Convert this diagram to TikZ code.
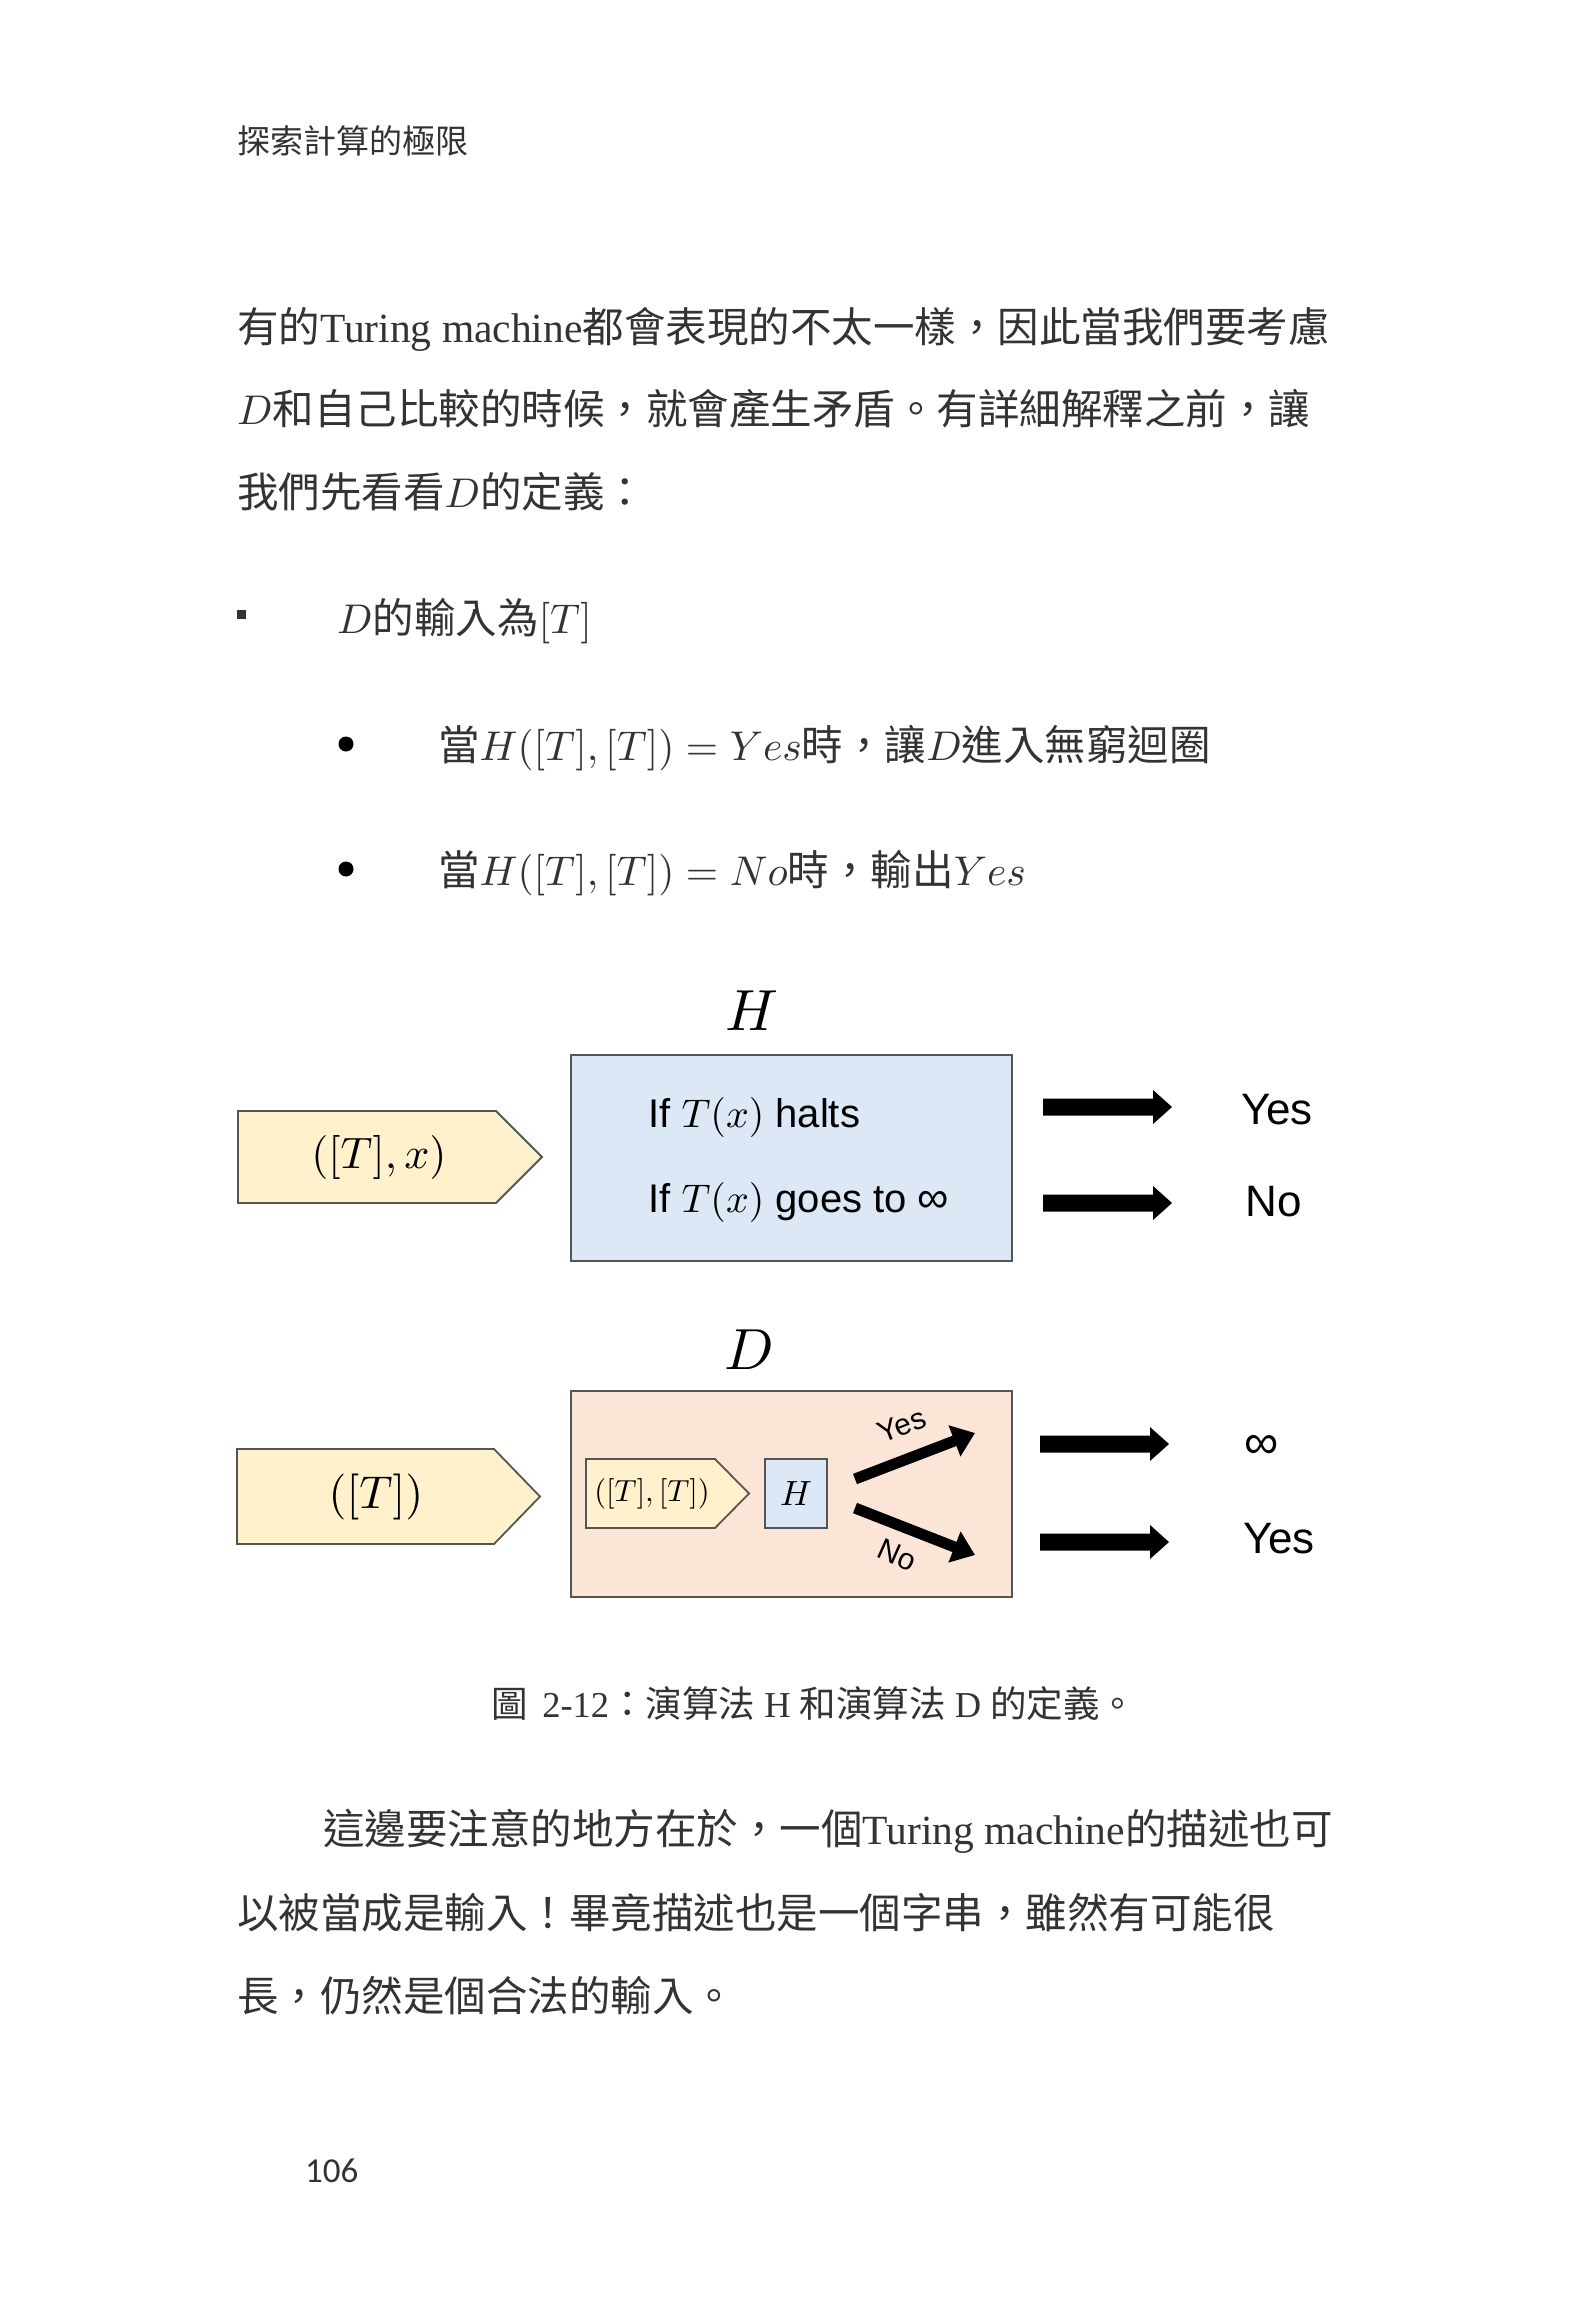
\documentclass[tikz,border=0pt]{standalone}
\usepackage{fontspec}
\setmainfont{Liberation Serif}
\newfontfamily\cjk{Noto Sans CJK TC}
\newfontfamily\arialf{Liberation Sans}
\newfontfamily\calf{Carlito}
\DeclareFontShape{OT1}{cmr}{m}{n}{<->cmr10}{}
\DeclareFontShape{OML}{cmm}{m}{it}{<->cmmi10}{}
\DeclareFontShape{OMS}{cmsy}{m}{n}{<->cmsy10}{}
\DeclareFontShape{OMX}{cmex}{m}{n}{<->cmex10}{}
\usetikzlibrary{arrows.meta}
\definecolor{txt}{HTML}{333333}
\definecolor{hblue}{HTML}{DCE8F5}
\definecolor{dpeach}{HTML}{FBE5D6}
\definecolor{pyellow}{HTML}{FEF1CB}
\definecolor{edgec}{HTML}{555555}
\newcommand\fs[1]{\fontsize{#1}{#1}\selectfont}
\newcommand\barrow[2]{\fill[black] (#1,#2) ++(0,-8.5) -- ++(110,0) -- ++(0,-8.5) -- ++(19,17) -- ++(-19,17) -- ++(0,-8.5) -- ++(-110,0) -- cycle;}
\tikzset{
  body/.style={anchor=base west, inner sep=0pt, text=txt, font=\fs{41.5}\cjk},
  pent/.style={draw=edgec, fill=pyellow, line width=1.8pt, line join=miter},
  bigbox/.style={draw=edgec, line width=1.8pt, minimum width=441pt, minimum height=206pt, inner sep=0pt},
  lbl/.style={inner sep=0pt, text=black},
  thinarrow/.style={line width=11pt, -{Triangle[length=22pt,width=32pt]}}
}
\begin{document}
\begin{tikzpicture}[x=1pt,y=-1pt]
\useasboundingbox[fill=white] (0,0) rectangle (1584,2317);

% header
\node[anchor=base west, inner sep=0pt, text=txt, font=\fs{33}\cjk] (hdr) at (237,153.5) {探索計算的極限};

% first paragraph
\node[body] (p1) at (237,342) {有的{\rmfamily Turing machine}都會表現的不太一樣，因此當我們要考慮};
\node[body] (p2) at (237,424) {$D$和自己比較的時候，就會產生矛盾。有詳細解釋之前，讓};
\node[body] (p3) at (237,507) {我們先看看$D$的定義：};

% list
\node[fill=txt, minimum size=9pt, inner sep=0pt] (sq) at (241,614) {};
\node[body] (b0) at (337,633) {$D$的輸入為$[T]$};
\node[circle, fill=black, minimum size=15pt, inner sep=0pt] (d1) at (346,744) {};
\node[body] (b1) at (438,760) {當$H([T],[T])=Yes$時，讓$D$進入無窮迴圈};
\node[circle, fill=black, minimum size=15pt, inner sep=0pt] (d2) at (346,869) {};
\node[body] (b2) at (438,885) {當$H([T],[T])=No$時，輸出$Yes$};

% ---------- H diagram ----------
\node[lbl, font=\fs{58}] (hl) at (752,1011) {$H$};
\node[bigbox, fill=hblue] (hbox) at (791.5,1158) {};
\node[lbl, anchor=west, font=\fs{40}\arialf] (h1) at (648,1117) {If $T(x)$ halts};
\node[lbl, anchor=west, font=\fs{40}\arialf] (h2) at (648,1202) {If $T(x)$ goes to {\fs{44}∞}};
\path[pent] (238,1111) -- (496,1111) -- (542,1157) -- (496,1203) -- (238,1203) -- cycle;
\node[lbl, font=\fs{44}] (in1) at (379,1157) {$([T],x)$};
\barrow{1043}{1107}
\barrow{1043}{1203}
\node[lbl, font=\fs{44}\arialf] (y1) at (1277,1110) {Yes};
\node[lbl, font=\fs{44}\arialf] (n1) at (1274,1202) {No};

% ---------- D diagram ----------
\node[lbl, font=\fs{58}] (dl) at (749,1350) {$D$};
\node[bigbox, fill=dpeach] (dbox) at (791.5,1494) {};
\path[pent] (237,1449) -- (494,1449) -- (540,1496.5) -- (494,1544) -- (237,1544) -- cycle;
\node[lbl, font=\fs{46}] (in2) at (376,1497) {$([T])$};
\path[pent] (586,1459) -- (715,1459) -- (749,1493.5) -- (715,1528) -- (586,1528) -- cycle;
\node[lbl, font=\fs{30.5}] (in3) at (652,1494) {$([T],[T])$};
\node[draw=edgec, fill=hblue, line width=1.8pt, minimum width=62pt, minimum height=69pt, inner sep=0pt, font=\fs{35}] (hs) at (796,1493.5) {$H$};
\coordinate (ys) at (855,1479);
\coordinate (ye) at (975,1433);
\coordinate (ns) at (855,1508);
\coordinate (ne) at (975,1555);
\draw[thinarrow] (ys) -- (ye);
\draw[thinarrow] (ns) -- (ne);
\node[lbl, font=\fs{30}\arialf, rotate=21] (yl) at (902,1425) {Yes};
\node[lbl, font=\fs{30}\arialf, rotate=-24] (nl) at (897,1555) {No};
\barrow{1040}{1444}
\barrow{1040}{1542}
\node[lbl, font=\fs{48}\arialf] (inf) at (1262,1447) {∞};
\node[lbl, font=\fs{44}\arialf] (y2) at (1279,1539) {Yes};

% caption
\node[anchor=base west, inner sep=0pt, text=txt, font=\fs{36.5}] (cap) at (491,1717) {{\cjk 圖}\hspace{.4em}2-12{\cjk ：演算法}\hspace{.25em}H\hspace{.25em}{\cjk 和演算法}\hspace{.25em}D\hspace{.25em}{\cjk 的定義。}};

% second paragraph
\node[body] (q1) at (323,1844) {這邊要注意的地方在於，一個{\rmfamily Turing machine}的描述也可};
\node[body] (q2) at (237,1928) {以被當成是輸入！畢竟描述也是一個字串，雖然有可能很};
\node[body] (q3) at (237,2011) {長，仍然是個合法的輸入。};

% page number
\node[anchor=base west, inner sep=0pt, text=txt, font=\fs{35}\calf] (pg) at (305,2182) {106};
\end{tikzpicture}
\end{document}
